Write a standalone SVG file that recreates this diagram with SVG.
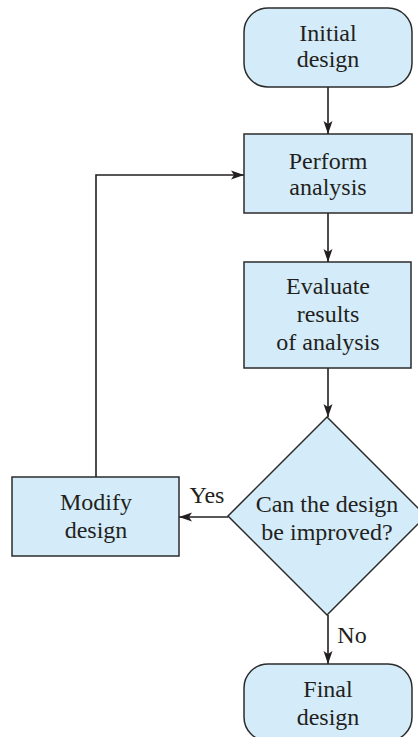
<svg xmlns="http://www.w3.org/2000/svg" width="418" height="737" viewBox="0 0 418 737">
  <style>
    .box { fill: #d4ecf9; stroke: #2b2b2b; stroke-width: 1.5; }
    .lbl { font-family: "Liberation Serif", "Times New Roman", serif; font-size: 24px; fill: #231f20; text-anchor: middle; }
    .edge { fill: none; stroke: #231f20; stroke-width: 1.6; }
  </style>
  <defs>
    <marker id="arr" markerUnits="userSpaceOnUse" markerWidth="14" markerHeight="10" refX="13" refY="5" orient="auto">
      <path d="M0,0.5 L13,5 L0,9.5 L3,5 Z" fill="#231f20"/>
    </marker>
  </defs>
  <rect width="418" height="737" fill="#ffffff"/>

  <g id="connectors">
    <line class="edge" x1="328" y1="87" x2="328" y2="134" marker-end="url(#arr)"/>
    <line class="edge" x1="328" y1="213" x2="328" y2="262" marker-end="url(#arr)"/>
    <line class="edge" x1="328" y1="368" x2="328" y2="417" marker-end="url(#arr)"/>
    <line class="edge" x1="228" y1="517" x2="179" y2="517" marker-end="url(#arr)"/>
    <path class="edge" d="M96,477 V175 H244" marker-end="url(#arr)"/>
    <line class="edge" x1="328" y1="615" x2="328" y2="664" marker-end="url(#arr)"/>
    <text class="lbl" x="207" y="503">Yes</text>
    <text class="lbl" x="352" y="643">No</text>
  </g>

  <g id="initial">
    <rect class="box" x="244" y="8" width="168" height="79" rx="24" ry="24"/>
    <text class="lbl" x="328" y="41">Initial</text>
    <text class="lbl" x="328" y="67">design</text>
  </g>

  <g id="perform">
    <rect class="box" x="244" y="134" width="168" height="79"/>
    <text class="lbl" x="328" y="169">Perform</text>
    <text class="lbl" x="328" y="195">analysis</text>
  </g>

  <g id="evaluate">
    <rect class="box" x="244" y="262" width="167" height="106"/>
    <text class="lbl" x="328" y="294">Evaluate</text>
    <text class="lbl" x="328" y="322">results</text>
    <text class="lbl" x="328" y="350">of analysis</text>
  </g>

  <g id="decision">
    <polygon class="box" points="327,417 426,516 327,615 228,516"/>
    <text class="lbl" x="327" y="512">Can the design</text>
    <text class="lbl" x="327" y="540">be improved?</text>
  </g>

  <g id="modify">
    <rect class="box" x="12" y="477" width="167" height="79"/>
    <text class="lbl" x="96" y="510">Modify</text>
    <text class="lbl" x="96" y="538">design</text>
  </g>

  <g id="final">
    <rect class="box" x="244" y="664" width="168" height="77" rx="24" ry="24"/>
    <text class="lbl" x="328" y="697">Final</text>
    <text class="lbl" x="328" y="725">design</text>
  </g>
</svg>
